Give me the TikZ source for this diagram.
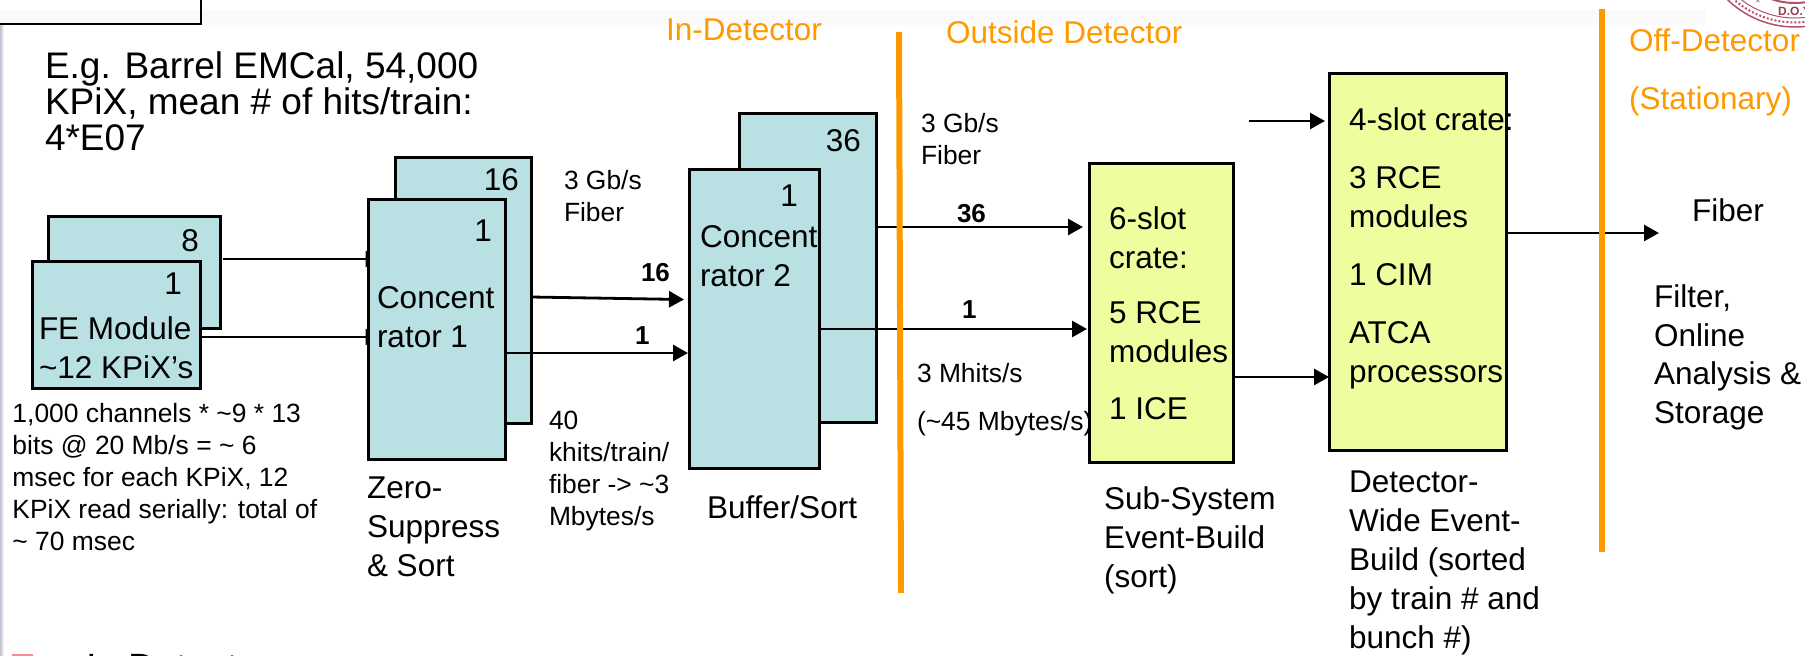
\documentclass[tikz,border=0pt]{standalone}
\usepackage{fontspec}
\setmainfont{Liberation Sans}
\usetikzlibrary{arrows.meta, backgrounds, positioning}
\definecolor{modulefill}{HTML}{B9E0E3}
\definecolor{cratefill}{HTML}{EFFD9F}
\definecolor{dividerorange}{HTML}{FF9900}
\definecolor{sealred}{HTML}{B5506A}
\tikzstyle{block} = [rectangle, line width=3pt, draw=black, outer sep=0pt, inner sep=0pt, anchor=north west]
\tikzstyle{module} = [block, fill=modulefill]
\tikzstyle{crate} = [block, fill=cratefill]
\tikzstyle{arrow} = [line width=2.8pt, -{Triangle[length=15pt,width=16pt]}]
\tikzstyle{divider} = [line width=6pt, draw=dividerorange]
\tikzstyle{txt} = [inner sep=0pt, outer sep=0pt, align=left, anchor=base west, font=\fontsize{31.5}{39}\selectfont]
\tikzstyle{small} = [txt, font=\fontsize{26.4}{32}\selectfont]
\tikzstyle{count} = [txt, font=\fontsize{26}{32}\selectfont\bfseries]
\tikzstyle{num} = [txt, anchor=base east]
\tikzstyle{zone} = [txt, text=dividerorange]
\begin{document}
\begin{tikzpicture}[x=1pt, y=-1pt]
		\useasboundingbox (0,0) rectangle (1805,656);
		\clip (0,0) rectangle (1805,656);
		
		\node (FEModuleBack) [module, minimum width=172pt, minimum height=112pt] at (48,216) {};
		\node (FEModule) [module, minimum width=168pt, minimum height=127pt] at (32,261) {};
		\node (Concentrator1Back) [module, minimum width=136pt, minimum height=266pt] at (395,157) {};
		\node (Concentrator1) [module, minimum width=136.5pt, minimum height=260pt] at (368.5,199) {};
		\node (Concentrator2Back) [module, minimum width=137pt, minimum height=309pt] at (739,113) {};
		\node (Concentrator2) [module, minimum width=130pt, minimum height=299pt] at (689,169) {};
		\node (SubSystemCrate) [crate, minimum width=144pt, minimum height=299pt] at (1089,163) {};
		\node (DetectorCrate) [crate, minimum width=177pt, minimum height=377pt] at (1329,73) {};
		\coordinate (DetectorIn) at (1249,121);
		\coordinate (FiberOut) at (1659,233);
		
		\node (FEModuleBackNum) [num] at (199,251) {8};
		\node (FEModuleNum) [num] at (182,294) {1};
		\node (FEModuleText) [txt] at (39,378) {FE Module\\\textasciitilde12 KPiX’s};
		\node (Concentrator1BackNum) [num] at (519,190) {16};
		\node (Concentrator1Num) [num] at (492,241) {1};
		\node (Concentrator1Text) [txt] at (377,347) {Concent\\rator 1};
		\node (Concentrator2BackNum) [num] at (861,151) {36};
		\node (Concentrator2Num) [num] at (798,206) {1};
		\node (Concentrator2Text) [txt] at (700,286) {Concent\\rator 2};
		\node (SubSystemText) [txt] at (1109,419) {6-slot\\crate:\\[16pt]5 RCE\\modules\\[18pt]1 ICE};
		\node (DetectorText) [txt] at (1349,382) {4-slot crate:\\[19pt]3 RCE\\modules\\[19pt]1 CIM\\[19pt]ATCA\\processors};
		
		\begin{pgfonlayer}{background}
			\fill [black!2] (0,10) rectangle (1706,25);
			\fill [left color=blue!25!black!25!white, right color=white] (0,25) rectangle (4,656);
			\draw [line width=1.5pt] (-2,24) -- (201,24) -- (201,-2);
			\draw [arrow] ([shift={(3pt,13pt)}]FEModuleBack.east) -- ([shift={(12pt,70pt)}]Concentrator1.west);
			\draw [arrow] ([yshift=-12.5pt]FEModule.east) -- ([shift={(12pt,-8pt)}]Concentrator1.west);
		\end{pgfonlayer}
		
		\draw [arrow] ([yshift=-7pt]Concentrator1Back.east) -- ([shift={(-5pt,19pt)}]Concentrator2.west);
		\draw [arrow] ([yshift=-24pt]Concentrator1.east) -- ([shift={(-1pt,-34.5pt)}]Concentrator2.west);
		\draw [arrow] ([yshift=40.5pt]Concentrator2Back.east) -- ([shift={(-6pt,85.5pt)}]SubSystemCrate.west);
		\draw [arrow] ([yshift=-10.5pt]Concentrator2.east) -- ([shift={(-2pt,-16.5pt)}]SubSystemCrate.west);
		\draw [arrow] ([yshift=-64.5pt]SubSystemCrate.east) -- ([yshift=-115.5pt]DetectorCrate.west);
		\draw [arrow] (DetectorIn) -- ([shift={(-4pt,140.5pt)}]DetectorCrate.west);
		\draw [arrow] ([yshift=28.5pt]DetectorCrate.east) -- (FiberOut);
		
		\draw [divider] (899,32) -- (901,593);
		\draw [divider] (1601.5,9) -- (1601.5,552);
		
		\node (Title) [txt, font=\fontsize{37}{36}\selectfont] at (45,150) {E.g. Barrel EMCal, 54,000\\KPiX, mean \# of hits/train:\\4*E07};
		\node (InDetector) [zone] at (666,40) {In-Detector};
		\node (OutsideDetector) [zone] at (946,43) {Outside Detector};
		\node (OffDetector) [zone, font=\fontsize{31.5}{58}\selectfont] at (1629,109) {Off-Detector\\(Stationary)};
		
		\node (ReadoutNote) [small] at (12.5,550) {1,000 channels * \textasciitilde9 * 13\\bits @ 20 Mb/s = \textasciitilde\ 6\\msec for each KPiX, 12\\KPiX read serially: total of\\\textasciitilde\ 70 msec};
		\node (ZeroSuppress) [txt] at (367,576) {Zero-\\Suppress\\\& Sort};
		\node (FiberRateLeft) [small] at (564,221) {3 Gb/s\\Fiber};
		\node (HitsNote) [small] at (549,525) {40\\khits/train/\\fiber -> \textasciitilde3\\Mbytes/s};
		\node (BufferSort) [txt] at (707,518) {Buffer/Sort};
		\node (FiberRateRight) [small] at (921,164) {3 Gb/s\\Fiber};
		\node (MhitsNote) [small, font=\fontsize{26.4}{48}\selectfont] at (917,430) {3 Mhits/s\\(\textasciitilde45 Mbytes/s)};
		\node (SubSystemNote) [txt] at (1104,587) {Sub-System\\Event-Build\\(sort)};
		\node (DetectorNote) [txt] at (1349,648) {Detector-\\Wide Event-\\Build (sorted\\by train \# and\\bunch \#)};
		\node (FiberLabel) [txt] at (1692,221) {Fiber};
		\node (StorageNote) [txt, font=\fontsize{31.5}{38.5}\selectfont] at (1654,423) {Filter,\\Online\\Analysis \&\\Storage};
		
		\node (Count16) [count] at (641,281) {16};
		\node (Count1Left) [count] at (635,344) {1};
		\node (Count36) [count] at (957,222) {36};
		\node (Count1Right) [count] at (962,318) {1};
		
		\fill [red!45] (12,654) rectangle (33,660);
		\node (InDetectorCut) [txt, font=\fontsize{38}{38}\selectfont] at (86,680) {In Detector};
		
		% seal in the corner
		\draw [sealred, line width=1.5pt] (1795,-70) circle (97);
		\draw [sealred, line width=2pt, dotted] (1795,-70) circle (92.5);
		\draw [sealred, line width=1pt] (1795,-70) circle (88);
		\draw [sealred, line width=2pt] (1795,-70) circle (73);
		\node (SealStar) [inner sep=0pt, text=sealred, font=\fontsize{14}{14}\selectfont] at (1758,3) {*};
		\node (SealText) [inner sep=0pt, anchor=base west, text=sealred!80!black, font=\fontsize{12}{12}\selectfont\bfseries] at (1778,15) {D.O.Y};
\end{tikzpicture}
\end{document}
